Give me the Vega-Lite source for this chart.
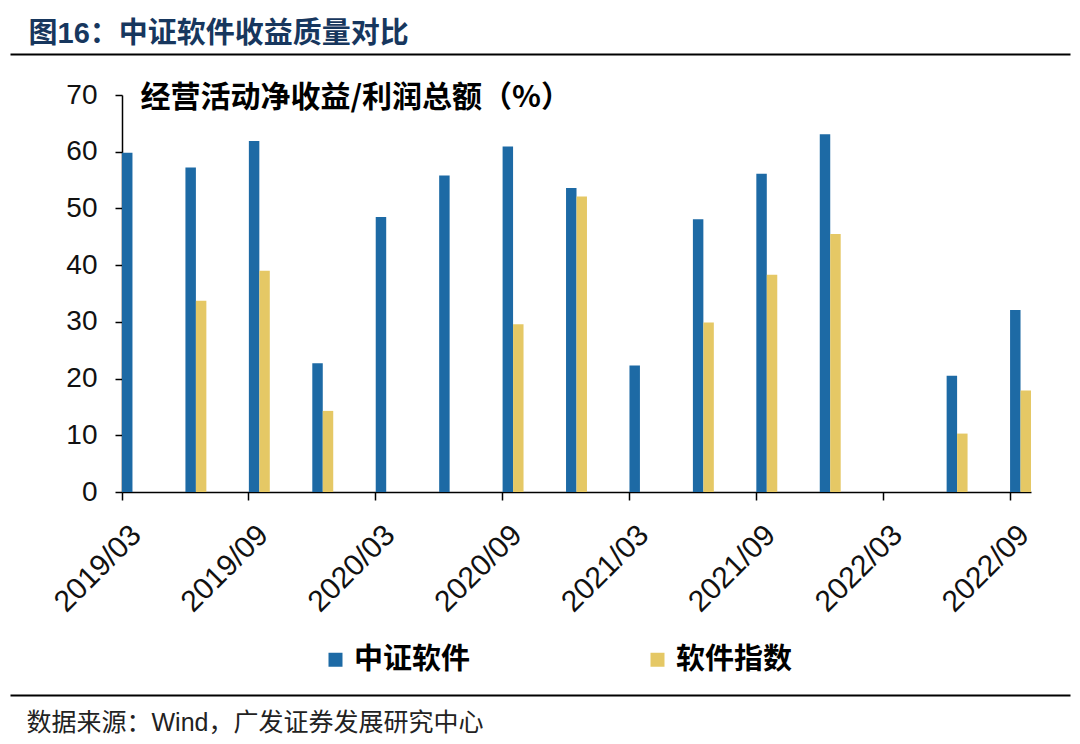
{
  "$schema": "https://vega.github.io/schema/vega-lite/v6.json",
  "width": 909,
  "height": 397,
  "autosize": {"type": "none"},
  "padding": {"left": 122, "top": 95, "right": 49, "bottom": 252},
  "background": "white",
  "config": {
    "view": {"stroke": null},
    "font": "'Liberation Sans', 'Noto Sans CJK SC', sans-serif"
  },
  "data": {
    "values": [
      {"q": "2019/03", "s": "中证软件", "v": 59.8},
      {"q": "2019/06", "s": "中证软件", "v": 57.2},
      {"q": "2019/06", "s": "软件指数", "v": 33.7},
      {"q": "2019/09", "s": "中证软件", "v": 61.9},
      {"q": "2019/09", "s": "软件指数", "v": 39.0},
      {"q": "2019/12", "s": "中证软件", "v": 22.7},
      {"q": "2019/12", "s": "软件指数", "v": 14.3},
      {"q": "2020/03", "s": "中证软件", "v": 48.5},
      {"q": "2020/06", "s": "中证软件", "v": 55.8},
      {"q": "2020/09", "s": "中证软件", "v": 60.9},
      {"q": "2020/09", "s": "软件指数", "v": 29.6},
      {"q": "2020/12", "s": "中证软件", "v": 53.6},
      {"q": "2020/12", "s": "软件指数", "v": 52.1},
      {"q": "2021/03", "s": "中证软件", "v": 22.3},
      {"q": "2021/06", "s": "中证软件", "v": 48.1},
      {"q": "2021/06", "s": "软件指数", "v": 29.9},
      {"q": "2021/09", "s": "中证软件", "v": 56.1},
      {"q": "2021/09", "s": "软件指数", "v": 38.3},
      {"q": "2021/12", "s": "中证软件", "v": 63.1},
      {"q": "2021/12", "s": "软件指数", "v": 45.5},
      {"q": "2022/06", "s": "中证软件", "v": 20.5},
      {"q": "2022/06", "s": "软件指数", "v": 10.3},
      {"q": "2022/09", "s": "中证软件", "v": 32.1},
      {"q": "2022/09", "s": "软件指数", "v": 17.9}
    ]
  },
  "resolve": {"scale": {"x": "independent"}, "axis": {"x": "independent"}},
  "layer": [
    {
      "mark": {"type": "bar"},
      "encoding": {
        "x": {
          "field": "q",
          "type": "ordinal",
          "scale": {
            "domain": ["2019/03","2019/06","2019/09","2019/12","2020/03","2020/06","2020/09","2020/12","2021/03","2021/06","2021/09","2021/12","2022/03","2022/06","2022/09"],
            "paddingInner": 0.67,
            "paddingOuter": 0
          },
          "axis": {
            "orient": "bottom",
            "title": null,
            "values": ["2019/03","2019/09","2020/03","2020/09","2021/03","2021/09","2022/03","2022/09"],
            "bandPosition": 0,
            "domainColor": "#000000",
            "domainWidth": 1.5,
            "tickColor": "#000000",
            "tickWidth": 1.5,
            "tickSize": 8,
            "labelAngle": -45,
            "labelAlign": "right",
            "labelBaseline": "middle",
            "labelFontSize": 30,
            "labelColor": "#111111",
            "labelFont": "Liberation Sans",
            "labelOffset": 4,
            "labelPadding": 30,
            "labelOverlap": false,
            "grid": false
          }
        },
        "xOffset": {
          "field": "s",
          "type": "nominal",
          "scale": {"domain": ["中证软件", "软件指数"], "paddingInner": 0, "paddingOuter": 0}
        },
        "y": {
          "field": "v",
          "type": "quantitative",
          "scale": {"domain": [0, 70], "nice": false},
          "axis": {
            "values": [0, 10, 20, 30, 40, 50, 60, 70],
            "grid": false,
            "domainColor": "#000000",
            "domainWidth": 1.5,
            "tickColor": "#000000",
            "tickWidth": 1.5,
            "tickSize": 7,
            "labelPadding": 18,
            "labelFontSize": 28,
            "labelColor": "#111111",
            "labelFont": "Liberation Sans",
            "title": "经营活动净收益/利润总额（%）",
            "titleAngle": 0,
            "titleAlign": "left",
            "titleBaseline": "middle",
            "titleX": 18,
            "titleY": 2,
            "titleFont": "Noto Sans CJK SC",
            "titleFontSize": 30,
            "titleFontWeight": "bold",
            "titleColor": "#000000"
          }
        },
        "color": {
          "field": "s",
          "type": "nominal",
          "scale": {"domain": ["中证软件", "软件指数"], "range": ["#1D6AA5", "#E5C865"]},
          "legend": {
            "orient": "none",
            "direction": "horizontal",
            "columns": 2,
            "legendX": 199,
            "legendY": 550,
            "padding": 0,
            "title": null,
            "symbolType": "square",
            "symbolSize": 196,
            "symbolStrokeWidth": 0,
            "labelFont": "Noto Sans CJK SC",
            "labelFontSize": 29,
            "labelFontWeight": "bold",
            "labelColor": "#000000",
            "labelOffset": 4,
            "labelLimit": 300,
            "columnPadding": 172
          }
        }
      }
    },
    {
      "mark": {"type": "point", "opacity": 0},
      "encoding": {
        "x": {
          "field": "q",
          "type": "ordinal",
          "scale": {"range": [-112, 948]},
          "axis": {
            "orient": "top",
            "offset": 41,
            "labels": false,
            "ticks": false,
            "grid": false,
            "domainColor": "#000000",
            "domainWidth": 2,
            "title": "图16：中证软件收益质量对比",
            "titleX": -94,
            "titleY": -21,
            "titleAlign": "left",
            "titleBaseline": "middle",
            "titleFont": "'Liberation Sans', 'Noto Sans CJK SC'",
            "titleFontSize": 29,
            "titleFontWeight": "bold",
            "titleColor": "#17375E"
          }
        }
      }
    },
    {
      "mark": {"type": "point", "opacity": 0},
      "encoding": {
        "x": {
          "field": "q",
          "type": "ordinal",
          "scale": {"range": [-112, 948]},
          "axis": {
            "orient": "bottom",
            "offset": 203,
            "labels": false,
            "ticks": false,
            "grid": false,
            "domainColor": "#000000",
            "domainWidth": 2,
            "title": "数据来源：Wind，广发证券发展研究中心",
            "titleX": -96,
            "titleY": 27,
            "titleAlign": "left",
            "titleBaseline": "middle",
            "titleFont": "'Liberation Sans', 'Noto Sans CJK SC'",
            "titleFontSize": 25,
            "titleFontWeight": "normal",
            "titleColor": "#222222"
          }
        }
      }
    }
  ]
}
